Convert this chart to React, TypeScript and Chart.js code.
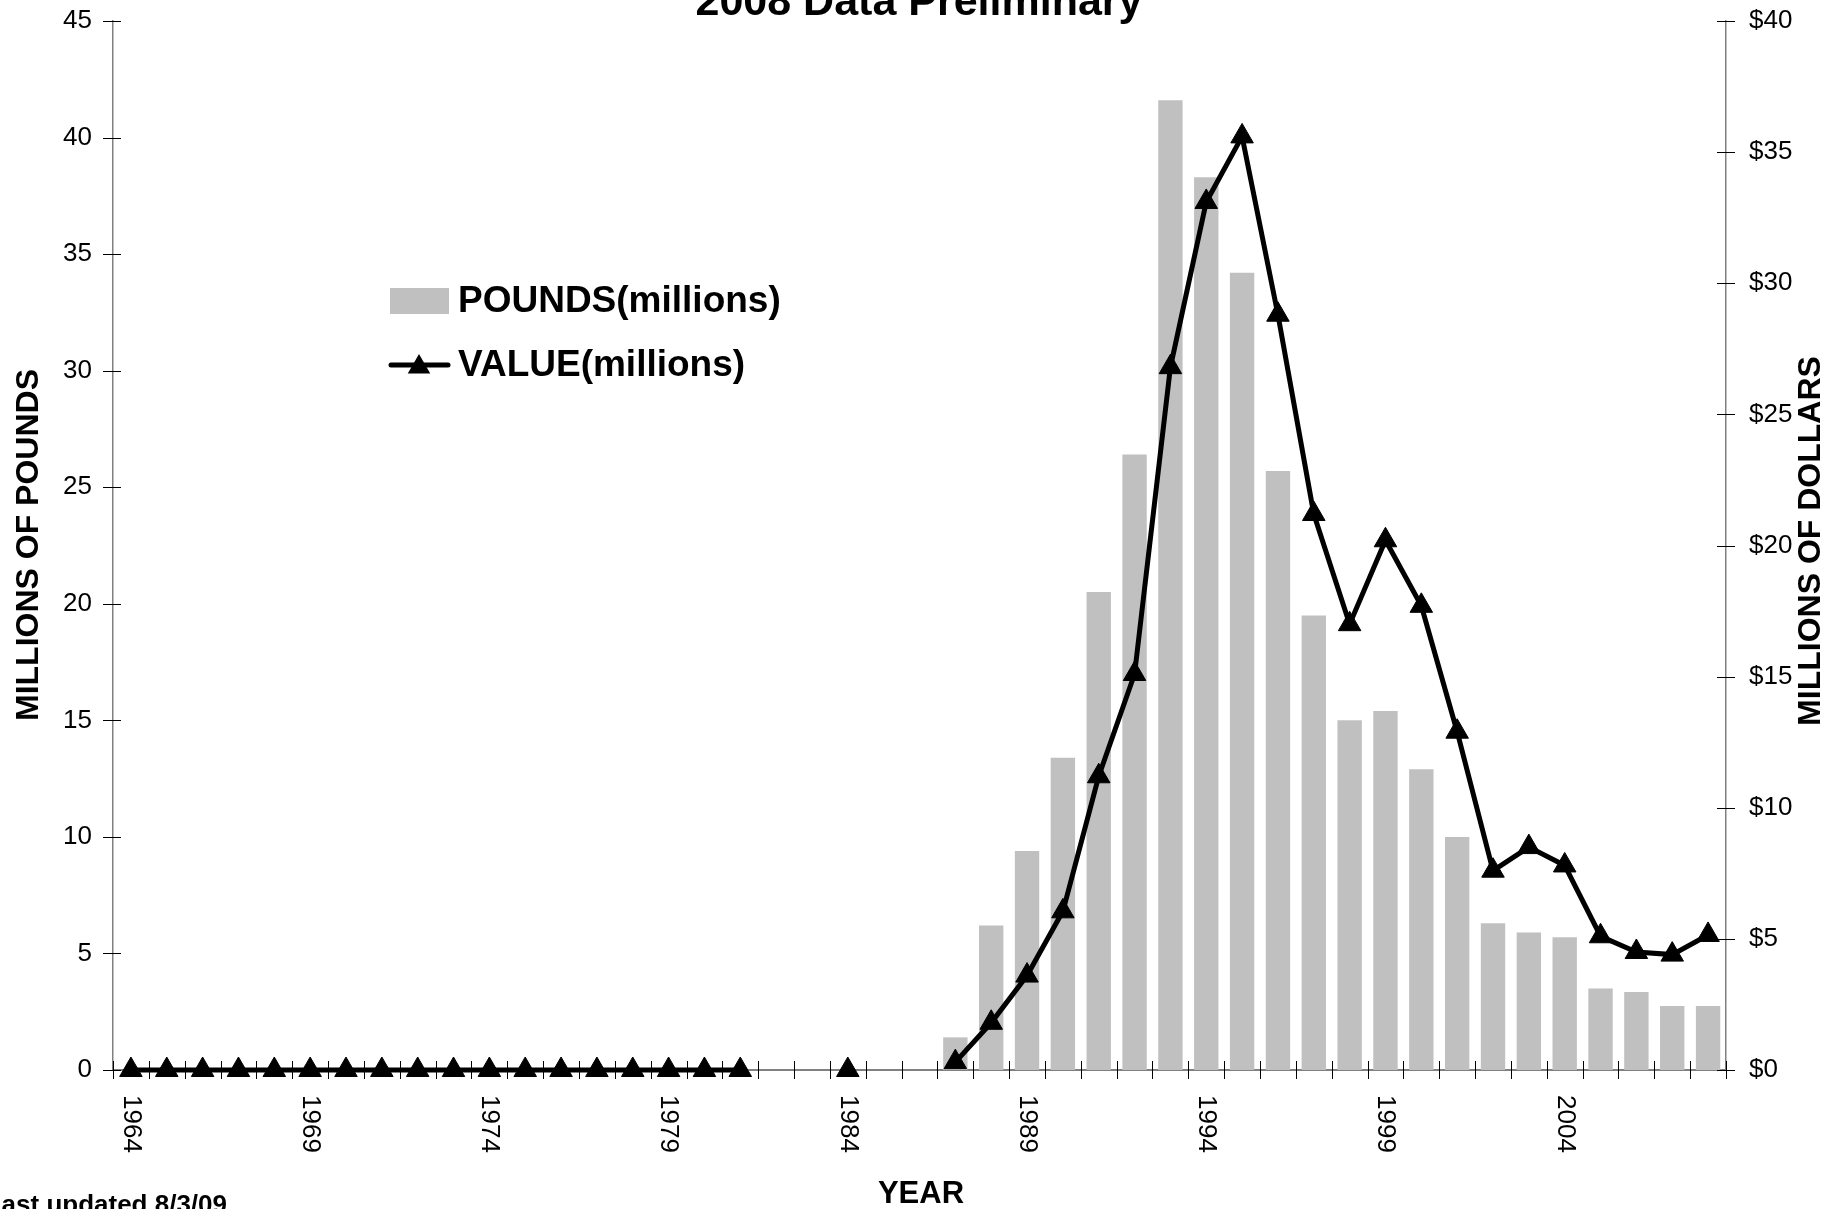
import React, { useEffect, useRef } from "react";
import { Chart, registerables } from "chart.js";

Chart.register(...registerables);

const YEARS: string[] = [
  "1964", "1965", "1966", "1967", "1968", "1969", "1970", "1971", "1972", "1973",
  "1974", "1975", "1976", "1977", "1978", "1979", "1980", "1981", "1982", "1983",
  "1984", "1985", "1986", "1987", "1988", "1989", "1990", "1991", "1992", "1993",
  "1994", "1995", "1996", "1997", "1998", "1999", "2000", "2001", "2002", "2003",
  "2004", "2005", "2006", "2007", "2008",
];

const LABELED_YEARS: string[] = ["1964", "1969", "1974", "1979", "1984", "1989", "1994", "1999", "2004"];

// millions of pounds (bars, left axis)
const POUNDS: (number | null)[] = [
  null, null, null, null, null, null, null, null, null, null,
  null, null, null, null, null, null, null, null, null, null,
  null, null, null, 1.4, 6.2, 9.4, 13.4, 20.5, 26.4, 41.6,
  38.3, 34.2, 25.7, 19.5, 15.0, 15.4, 12.9, 10.0, 6.3, 5.9,
  5.7, 3.5, 3.35, 2.75, 2.75,
];

// millions of dollars (line, right axis)
const VALUE: (number | null)[] = [
  0, 0, 0, 0, 0, 0, 0, 0, 0, 0,
  0, 0, 0, 0, 0, 0, 0, 0, null, null,
  0, null, null, 0.3, 1.8, 3.6, 6.05, 11.2, 15.1, 26.8,
  33.1, 35.6, 28.8, 21.2, 17.0, 20.2, 17.7, 12.9, 7.6, 8.5,
  7.8, 5.1, 4.5, 4.4, 5.15,
];

const FONT = "'Liberation Sans', Arial, sans-serif";

const TITLE = "2008 Data Preliminary";
const LEFT_TITLE = "MILLIONS OF POUNDS";
const RIGHT_TITLE = "MILLIONS OF DOLLARS";
const X_TITLE = "YEAR";
const FOOTNOTE = "Last updated 8/3/09";
const LEGEND_BAR = "POUNDS(millions)";
const LEGEND_LINE = "VALUE(millions)";

function drawTriangle(ctx: CanvasRenderingContext2D, x: number, y: number, r: number) {
  ctx.beginPath();
  ctx.moveTo(x, y - r);
  ctx.lineTo(x + r * 0.866, y + r * 0.5);
  ctx.lineTo(x - r * 0.866, y + r * 0.5);
  ctx.closePath();
  ctx.fill();
}

const ticksPlugin = {
  id: "crossTicks",
  beforeDatasetsDraw(chart: any) {
    const { ctx, chartArea, scales } = chart;
    ctx.save();
    ctx.strokeStyle = "#000";
    ctx.lineWidth = 1;
    ctx.beginPath();
    const ys = scales.y;
    ys.ticks.forEach((t: any) => {
      const py = Math.round(ys.getPixelForValue(t.value)) + 0.5;
      ctx.moveTo(chartArea.left - 10, py);
      ctx.lineTo(chartArea.left + 8, py);
    });
    const yr = scales.y1;
    yr.ticks.forEach((t: any) => {
      const py = Math.round(yr.getPixelForValue(t.value)) + 0.5;
      ctx.moveTo(chartArea.right - 9, py);
      ctx.lineTo(chartArea.right + 9, py);
    });
    const n = YEARS.length;
    const w = (chartArea.right - chartArea.left) / n;
    for (let i = 0; i <= n; i++) {
      const px = Math.round(chartArea.left + i * w) + 0.5;
      ctx.moveTo(px, chartArea.bottom - 9);
      ctx.lineTo(px, chartArea.bottom + 9);
    }
    ctx.stroke();
    ctx.restore();
  },
  afterDraw(chart: any) {
    const { ctx, chartArea, scales } = chart;
    ctx.save();
    ctx.fillStyle = "#000";

    // x tick labels, rotated clockwise
    ctx.font = `26px ${FONT}`;
    ctx.textAlign = "left";
    ctx.textBaseline = "middle";
    const xs = scales.x;
    LABELED_YEARS.forEach((lab) => {
      const idx = YEARS.indexOf(lab);
      const px = xs.getPixelForValue(idx);
      ctx.save();
      ctx.translate(px, chartArea.bottom + 25);
      ctx.rotate(Math.PI / 2);
      ctx.fillText(lab, 0, 0);
      ctx.restore();
    });

    // title
    ctx.font = `bold 43px ${FONT}`;
    ctx.textAlign = "center";
    ctx.textBaseline = "alphabetic";
    ctx.fillText(TITLE, 919, 15);

    // x title
    ctx.font = `bold 31px ${FONT}`;
    ctx.fillText(X_TITLE, 921, 1203);

    // footnote
    ctx.font = `bold 26px ${FONT}`;
    ctx.textAlign = "right";
    ctx.fillText(FOOTNOTE, 227, 1213);

    // axis titles
    ctx.font = `bold 32px ${FONT}`;
    ctx.textAlign = "center";
    ctx.textBaseline = "middle";
    ctx.save();
    ctx.translate(29, 545);
    ctx.rotate(-Math.PI / 2);
    ctx.fillText(LEFT_TITLE, 0, 0);
    ctx.restore();
    ctx.save();
    ctx.translate(1811, 541);
    ctx.rotate(-Math.PI / 2);
    ctx.fillText(RIGHT_TITLE, 0, 0);
    ctx.restore();

    // legend
    ctx.fillStyle = "#C0C0C0";
    ctx.fillRect(390, 288, 59, 26);
    ctx.strokeStyle = "#000";
    ctx.lineWidth = 5;
    ctx.lineCap = "round";
    ctx.beginPath();
    ctx.moveTo(391, 365);
    ctx.lineTo(448, 365);
    ctx.stroke();
    ctx.fillStyle = "#000";
    drawTriangle(ctx, 419, 367, 13);
    ctx.font = `bold 37px ${FONT}`;
    ctx.textAlign = "left";
    ctx.textBaseline = "middle";
    ctx.fillText(LEGEND_BAR, 458, 302);
    ctx.fillText(LEGEND_LINE, 458, 366);

    ctx.restore();
  },
};

export default function App() {
  const canvasRef = useRef<HTMLCanvasElement | null>(null);

  useEffect(() => {
    document.body.style.margin = "0";
    const canvas = canvasRef.current;
    if (!canvas) return;
    Chart.defaults.font.family = FONT;
    const tickFont = { size: 26, family: FONT };
    const chart = new Chart(canvas, {
      type: "bar",
      data: {
        labels: YEARS,
        datasets: [
          {
            type: "line",
            label: LEGEND_LINE,
            data: VALUE,
            yAxisID: "y1",
            borderColor: "#000",
            backgroundColor: "#000",
            borderWidth: 5,
            pointStyle: "triangle",
            pointRadius: 13,
            pointBorderWidth: 1,
            pointBackgroundColor: "#000",
            pointBorderColor: "#000",
            tension: 0,
            spanGaps: false,
            clip: false,
            order: 0,
          } as any,
          {
            type: "bar",
            label: LEGEND_BAR,
            data: POUNDS,
            yAxisID: "y",
            backgroundColor: "#C0C0C0",
            borderWidth: 0,
            barPercentage: 0.68,
            categoryPercentage: 1,
            order: 1,
          } as any,
        ],
      },
      options: {
        responsive: false,
        animation: false,
        devicePixelRatio: 1,
        layout: { padding: { top: 21, left: 0, right: 0, bottom: 0 } },
        plugins: {
          legend: { display: false },
          tooltip: { enabled: false },
          title: { display: false },
        },
        scales: {
          x: {
            type: "category",
            offset: true,
            grid: { display: false },
            border: { display: true, color: "#808080", width: 2 },
            ticks: { display: false },
            afterFit: (s: any) => {
              s.height = 139;
              s.paddingLeft = 0;
              s.paddingRight = 0;
            },
          },
          y: {
            position: "left",
            min: 0,
            max: 45,
            grid: { display: false },
            border: { display: true, color: "#808080", width: 1.5 },
            ticks: { stepSize: 5, font: tickFont, color: "#000", padding: 13 },
            afterFit: (s: any) => {
              s.width = 113;
              s.paddingTop = 0;
              s.paddingBottom = 0;
            },
          },
          y1: {
            position: "right",
            min: 0,
            max: 40,
            grid: { display: false },
            border: { display: true, color: "#808080", width: 1.5 },
            ticks: {
              stepSize: 5,
              font: tickFont,
              color: "#000",
              padding: 15,
              callback: (v: any) => "$" + v,
            },
            afterFit: (s: any) => {
              s.width = 103;
              s.paddingTop = 0;
              s.paddingBottom = 0;
            },
          },
        },
      } as any,
      plugins: [ticksPlugin],
    });
    return () => chart.destroy();
  }, []);

  return (
    <div style={{ width: 1829, height: 1209, background: "#fff" }}>
      <canvas ref={canvasRef} width={1829} height={1209} style={{ width: 1829, height: 1209, display: "block" }} />
    </div>
  );
}
